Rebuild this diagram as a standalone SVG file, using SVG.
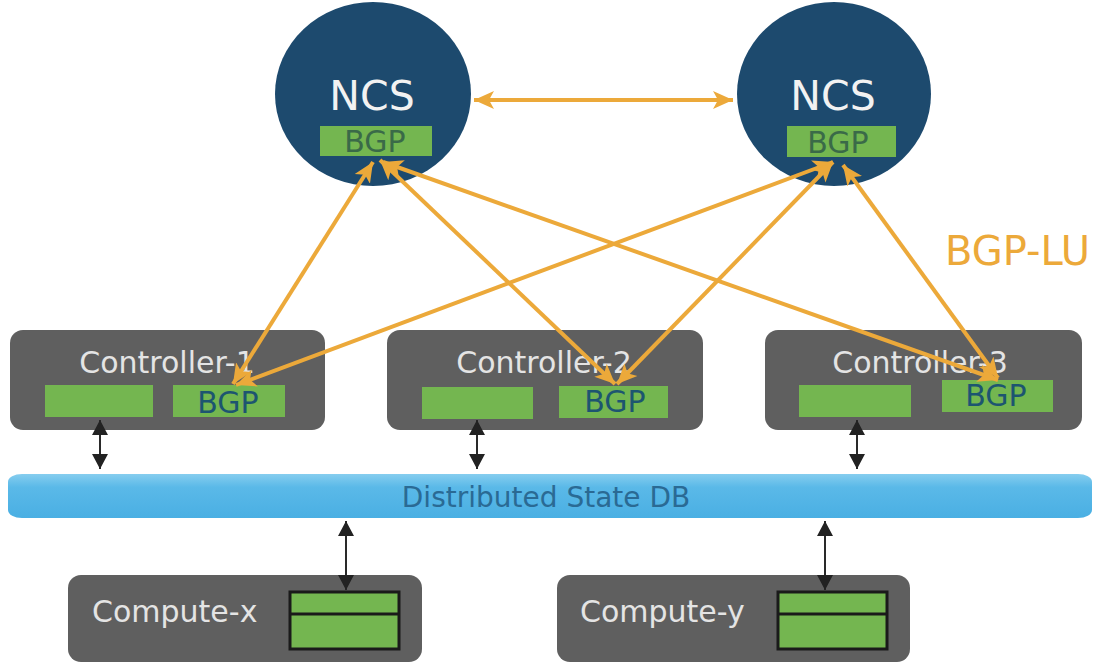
<svg xmlns="http://www.w3.org/2000/svg" width="1110" height="665" viewBox="0 0 1110 665">
<defs>
<style>
.ncs{fill:#1d4a6e}
.box{fill:#5f5f5f}
.grn{fill:#74b650}
.t{font-family:"DejaVu Sans","Liberation Sans",sans-serif}
.ncst{font-size:41px;fill:#f2f2f2;text-anchor:middle}
.bgpn{font-size:30px;fill:#3a6a48;text-anchor:middle}
.bgpc{font-size:30px;fill:#1d5570;text-anchor:middle}
.ctl{font-size:30px;fill:#e4e4e4;text-anchor:middle}
.cmp{font-size:30px;fill:#e4e4e4}
.org{stroke:#eca93a;stroke-width:4;fill:none;marker-start:url(#oa);marker-end:url(#oa)}
.blk{stroke:#2a2a2a;stroke-width:2;fill:none;marker-start:url(#ba);marker-end:url(#ba)}
.stk{fill:#74b650;stroke:#1a1a1a;stroke-width:3}
</style>
<marker id="oa" markerUnits="userSpaceOnUse" markerWidth="22" markerHeight="20" viewBox="0 0 22 20" refX="20" refY="10" orient="auto-start-reverse">
<path d="M0,1 L20,10 L0,19 L5,10 z" fill="#eca93a"/>
</marker>
<marker id="ba" markerUnits="userSpaceOnUse" markerWidth="16" markerHeight="16" viewBox="0 0 16 16" refX="15" refY="8" orient="auto-start-reverse">
<path d="M0,0 L15,8 L0,16 z" fill="#222"/>
</marker>
<linearGradient id="db" x1="0" y1="0" x2="0" y2="1">
<stop offset="0" stop-color="#86cdef"/>
<stop offset="0.3" stop-color="#5ab9e8"/>
<stop offset="1" stop-color="#4aafe3"/>
</linearGradient>
</defs>

<g id="ncs1">
<ellipse class="ncs" cx="373" cy="94" rx="98" ry="92"/>
<text class="t ncst" x="372" y="110">NCS</text>
<rect class="grn" x="320" y="126" width="112" height="30"/>
<text class="t bgpn" x="375" y="152">BGP</text>
</g>

<g id="ncs2">
<ellipse class="ncs" cx="834" cy="94" rx="97" ry="92"/>
<text class="t ncst" x="833" y="110">NCS</text>
<rect class="grn" x="787" y="126" width="109" height="31"/>
<text class="t bgpn" x="838" y="153">BGP</text>
</g>

<g id="controller-1">
<rect class="box" x="10" y="330" width="315" height="100" rx="13"/>
<text class="t ctl" x="167" y="373">Controller-1</text>
<rect class="grn" x="45" y="385" width="108" height="32"/>
<rect class="grn" x="173" y="385" width="112" height="32"/>
<text class="t bgpc" x="228" y="413">BGP</text>
</g>

<g id="controller-2">
<rect class="box" x="387" y="330" width="316" height="100" rx="13"/>
<text class="t ctl" x="544" y="373">Controller-2</text>
<rect class="grn" x="422" y="387" width="111" height="32"/>
<rect class="grn" x="559" y="386" width="109" height="32"/>
<text class="t bgpc" x="615" y="412">BGP</text>
</g>

<g id="controller-3">
<rect class="box" x="765" y="330" width="317" height="100" rx="13"/>
<text class="t ctl" x="920" y="373">Controller-3</text>
<rect class="grn" x="799" y="385" width="112" height="32"/>
<rect class="grn" x="942" y="380" width="111" height="32"/>
<text class="t bgpc" x="996" y="406">BGP</text>
</g>

<g id="distributed-state-db">
<rect x="8" y="474" width="1084" height="44" rx="14" ry="8" fill="url(#db)"/>
<text class="t" x="546" y="507" font-size="28" fill="#2a6a94" text-anchor="middle">Distributed State DB</text>
</g>

<g id="compute-x">
<rect class="box" x="68" y="575" width="354" height="87" rx="13"/>
<text class="t cmp" x="92" y="622">Compute-x</text>
<rect class="stk" x="290" y="592" width="109" height="57"/>
<line x1="290" y1="614" x2="399" y2="614" stroke="#1a1a1a" stroke-width="3"/>
</g>

<g id="compute-y">
<rect class="box" x="557" y="575" width="353" height="87" rx="13"/>
<text class="t cmp" x="580" y="622">Compute-y</text>
<rect class="stk" x="778" y="592" width="109" height="57"/>
<line x1="778" y1="614" x2="887" y2="614" stroke="#1a1a1a" stroke-width="3"/>
</g>

<g id="label-bgp-lu">
<text class="t" x="945" y="265" font-size="40" fill="#eca93a">BGP-LU</text>
</g>

<g id="connectors">
<line class="org" x1="474" y1="100" x2="733" y2="100"/>
<line class="org" x1="373" y1="162" x2="233" y2="384"/>
<line class="org" x1="380" y1="160" x2="615" y2="384"/>
<line class="org" x1="383" y1="162" x2="998" y2="380"/>
<line class="org" x1="833" y1="162" x2="236" y2="385"/>
<line class="org" x1="833" y1="162" x2="617" y2="384"/>
<line class="org" x1="843" y1="165" x2="998" y2="378"/>
<line class="blk" x1="100" y1="420" x2="100" y2="469"/>
<line class="blk" x1="477" y1="420" x2="477" y2="469"/>
<line class="blk" x1="857" y1="420" x2="857" y2="469"/>
<line class="blk" x1="346" y1="521" x2="346" y2="590"/>
<line class="blk" x1="825" y1="521" x2="825" y2="590"/>
</g>
</svg>
